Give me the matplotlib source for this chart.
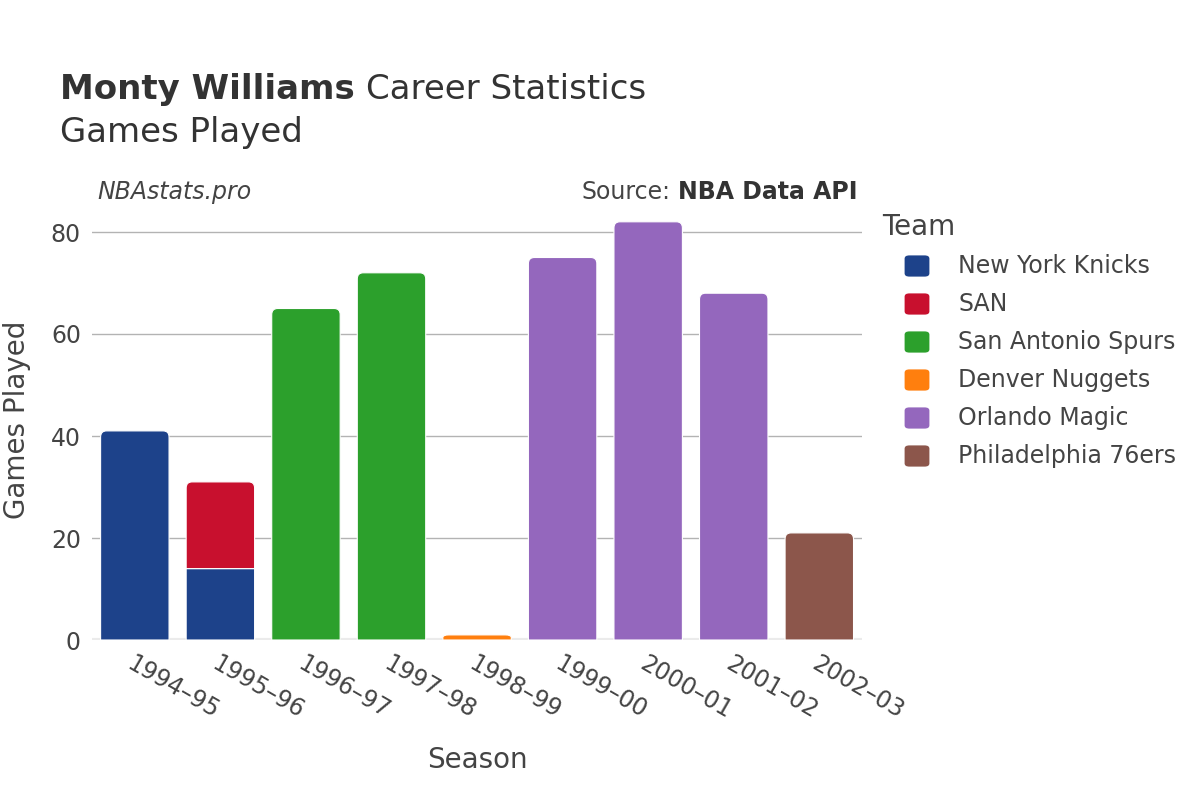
import matplotlib.pyplot as plt
import numpy as np
from matplotlib.path import Path
from matplotlib.patches import PathPatch, FancyBboxPatch

seasons = ["1994–95", "1995–96", "1996–97", "1997–98", "1998–99",
           "1999–00", "2000–01", "2001–02", "2002–03"]
teams = ["New York Knicks", "SAN", "San Antonio Spurs", "Denver Nuggets",
         "Orlando Magic", "Philadelphia 76ers"]
team_colors = ["#1d428a", "#c8102e", "#2ca02c", "#ff7f0e", "#9467bd", "#8c564b"]

# games per team per season (0 = did not play for that team)
knicks = [41, 14, 0, 0, 0, 0, 0, 0, 0]
san = [0, 17, 0, 0, 0, 0, 0, 0, 0]
spurs = [0, 0, 65, 72, 0, 0, 0, 0, 0]
nuggets = [0, 0, 0, 0, 1, 0, 0, 0, 0]
magic = [0, 0, 0, 0, 0, 75, 82, 68, 0]
sixers = [0, 0, 0, 0, 0, 0, 0, 0, 21]
games = [knicks, san, spurs, nuggets, magic, sixers]

TXT = "#444444"
plt.rcParams['font.family'] = ['DejaVu Sans']
fig = plt.figure(figsize=(12, 8), dpi=100)
ax = fig.add_axes([0.0767, 0.2, 0.6417, 0.5355])
ax.set_xlim(-0.5, len(seasons) - 0.5)
ax.set_ylim(0, 84)


def bar_patch(xc, y0, y1, width, color, rounded):
    # bar with rounded top corners (radius ~6px on screen)
    x0, x1 = xc - width / 2, xc + width / 2
    rx = 0.07 if rounded else 0.0
    ry = min(1.2, (y1 - y0) / 2) if rounded else 0.0
    verts = [(x0, y0), (x0, y1 - ry), (x0, y1), (x0 + rx, y1),
             (x1 - rx, y1), (x1, y1), (x1, y1 - ry), (x1, y0), (x0, y0)]
    codes = [Path.MOVETO, Path.LINETO, Path.CURVE3, Path.CURVE3,
             Path.LINETO, Path.CURVE3, Path.CURVE3, Path.LINETO, Path.CLOSEPOLY]
    ax.add_patch(PathPatch(Path(verts, codes), facecolor=color,
                           edgecolor="white", linewidth=0.8, zorder=3))


totals = np.sum(np.array(games), axis=0)
for i in range(len(seasons)):
    bottom = 0
    for vals, col in zip(games, team_colors):
        v = vals[i]
        if v == 0:
            continue
        top = bottom + v
        bar_patch(i, bottom, top, 0.8, col, top == totals[i])
        bottom = top

ax.set_yticks([0, 20, 40, 60, 80])
ax.grid(axis="y", color="#b3b3b3", linewidth=1, zorder=0)
ax.axhline(0, color="#ebebeb", linewidth=3, zorder=2)
for s in ax.spines.values():
    s.set_visible(False)
ax.tick_params(length=0, labelsize=17, colors=TXT, pad=8)
ax.set_xticks(range(len(seasons)))
ax.set_xticklabels(seasons, rotation=-30, ha="left", rotation_mode="anchor")

fig.text(477 / 1200, 0.05, "Season", fontsize=20, color=TXT, ha="center", va="center")
fig.text(17 / 1200, 0.475, "Games Played", fontsize=20, color=TXT,
         ha="center", va="center", rotation=90)

# titles
t1 = fig.text(0.05, 0.888, "Monty Williams", fontsize=24.5, fontweight="bold",
              color="#333333", va="center")
fig.canvas.draw()
bb = t1.get_window_extent()
fig.text(bb.x1 / 1200 + 0.009, 0.888, "Career Statistics", fontsize=24.5,
         color="#333333", va="center")
fig.text(0.05, 0.834, "Games Played", fontsize=24.5, color="#333333", va="center")

fig.text(0.081, 0.76, "NBAstats.pro", fontsize=17, style="italic",
         color=TXT, va="center")
src = fig.text(0.715, 0.76, "NBA Data API", fontsize=17, fontweight="bold",
               color="#333333", va="center", ha="right")
fig.canvas.draw()
bb = src.get_window_extent()
fig.text(bb.x0 / 1200 - 0.007, 0.76, "Source:", fontsize=17, color=TXT,
         va="center", ha="right")

# legend
fig.text(882 / 1200, 1 - 227 / 800, "Team", fontsize=20, color=TXT, va="center")
for k, (name, col) in enumerate(zip(teams, team_colors)):
    yc = 1 - (266 + 38 * k) / 800
    fig.patches.append(FancyBboxPatch(
        (907 / 1200, yc - 9 / 800), 20 / 1200, 18 / 800,
        boxstyle="round,pad=0.002,rounding_size=0.004",
        transform=fig.transFigure, facecolor=col, edgecolor="none"))
    fig.text(958 / 1200, yc, name, fontsize=17, color=TXT, va="center")

fig.savefig("out.png", dpi=100, facecolor="white")
